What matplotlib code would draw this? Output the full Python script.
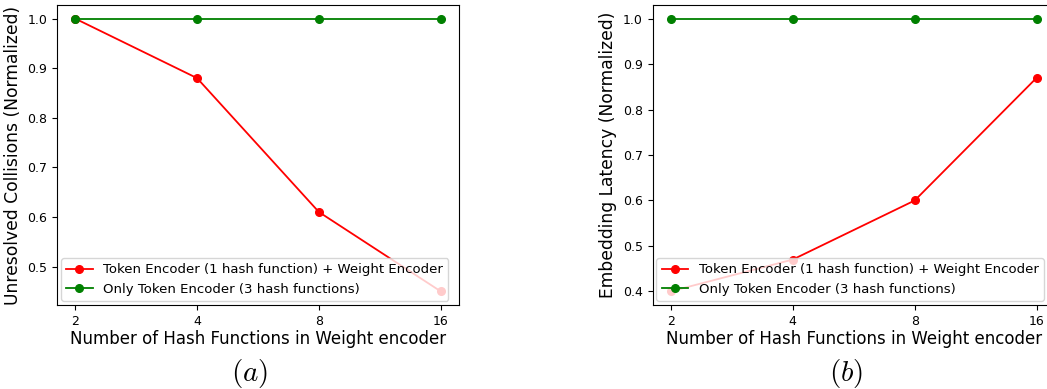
import matplotlib
matplotlib.use("Agg")
import matplotlib.pyplot as plt

hash_counts = ["2", "4", "8", "16"]
collisions_weight = [1.0, 0.88, 0.61, 0.45]
collisions_token_only = [1.0, 1.0, 1.0, 1.0]
latency_weight = [0.40, 0.47, 0.60, 0.87]
latency_token_only = [1.0, 1.0, 1.0, 1.0]

label_weight = "Token Encoder (1 hash function) + Weight Encoder"
label_token = "Only Token Encoder (3 hash functions)"
xlabel = "Number of Hash Functions in Weight encoder"

fig = plt.figure(figsize=(10.47, 3.89), dpi=100)
W, H = 1047, 389

# axes boxes in pixels
ax1 = fig.add_axes([57 / W, 1 - 305 / H, (459 - 57) / W, 300 / H])
ax2 = fig.add_axes([652.5 / W, 1 - 305 / H, 402.5 / W, 300 / H])

panels = [
    (ax1, collisions_weight, collisions_token_only, "Unresolved Collisions (Normalized)", r"$(a)$"),
    (ax2, latency_weight, latency_token_only, "Embedding Latency (Normalized)", r"$(b)$"),
]

x = range(len(hash_counts))
for ax, red_vals, green_vals, ylab, sub in panels:
    ax.plot(x, red_vals, "o-", color="red", markersize=5.5, linewidth=1.3, label=label_weight)
    ax.plot(x, green_vals, "o-", color="green", markersize=5.5, linewidth=1.3, label=label_token)
    ax.set_xticks(list(x))
    ax.set_xticklabels(hash_counts)
    ax.tick_params(labelsize=9)
    ax.set_xlabel(xlabel, fontsize=12, labelpad=2)
    ax.set_ylabel(ylab, fontsize=12.3, labelpad=4)
    ax.legend(loc="lower left", fontsize=9.5, borderaxespad=0.3, handlelength=2.0)
    ax.text(0.48, -0.175, sub, transform=ax.transAxes, ha="center", va="top",
            fontsize=21, math_fontfamily="cm")

fig.savefig("out.png", dpi=100)
